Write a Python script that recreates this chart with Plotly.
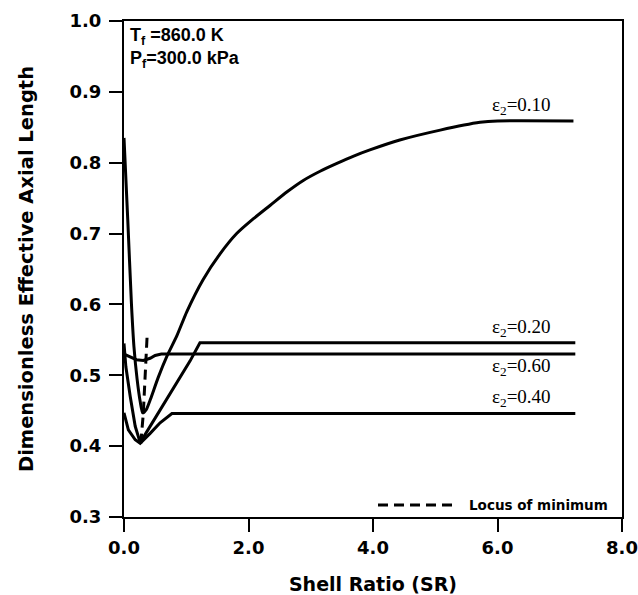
import plotly.graph_objects as go

# ---- data ----
eps10_x = [0.0, 0.06, 0.12, 0.16, 0.21, 0.26, 0.30, 0.36, 0.42, 0.55, 0.69, 0.85,
           1.01, 1.27, 1.54, 1.81, 2.08, 2.35, 2.62, 2.88, 3.15, 3.42, 3.68, 3.95, 4.43,
           5.08, 5.72, 6.00, 7.22]
eps10_y = [0.835, 0.720, 0.600, 0.540, 0.495, 0.463, 0.447, 0.452, 0.465, 0.497,
           0.527, 0.556, 0.590, 0.635, 0.671, 0.700, 0.721, 0.740, 0.759, 0.775, 0.788,
           0.799, 0.809, 0.818, 0.832, 0.846, 0.857, 0.859, 0.859]

eps20_x = [0.0, 0.03, 0.10, 0.18, 0.26, 0.42, 0.58, 0.85, 1.06, 1.22, 7.25]
eps20_y = [0.545, 0.512, 0.470, 0.428, 0.405, 0.428, 0.451, 0.490, 0.520, 0.546, 0.546]

eps40_x = [0.0, 0.07, 0.18, 0.26, 0.42, 0.58, 0.77, 7.25]
eps40_y = [0.447, 0.423, 0.409, 0.404, 0.418, 0.433, 0.446, 0.446]

eps60_x = [0.0, 0.10, 0.20, 0.31, 0.42, 0.50, 0.60, 7.25]
eps60_y = [0.530, 0.526, 0.522, 0.521, 0.524, 0.528, 0.530, 0.530]

locus_x = [0.37, 0.34, 0.31, 0.27]
locus_y = [0.553, 0.504, 0.446, 0.404]

curve_labels = ["ε<sub>2</sub>=0.10", "ε<sub>2</sub>=0.20", "ε<sub>2</sub>=0.60", "ε<sub>2</sub>=0.40"]
label_x = [6.39, 6.39, 6.39, 6.39]
label_y = [0.880, 0.567, 0.512, 0.468]

x_ticks = [0, 2, 4, 6, 8]
y_ticks = [0.3, 0.4, 0.5, 0.6, 0.7, 0.8, 0.9, 1.0]

fig = go.Figure()
fig.add_trace(go.Scatter(x=eps10_x, y=eps10_y, mode="lines", line_shape="spline",
                         line=dict(color="black", width=3, smoothing=0.6), showlegend=False))
for xs, ys in [(eps20_x, eps20_y), (eps40_x, eps40_y), (eps60_x, eps60_y)]:
    fig.add_trace(go.Scatter(x=xs, y=ys, mode="lines",
                             line=dict(color="black", width=3), showlegend=False))
fig.add_trace(go.Scatter(x=locus_x, y=locus_y, mode="lines", name="Locus of minimum",
                         line=dict(color="black", width=3, dash="10px,6px"), showlegend=False))

for t, xx, yy in zip(curve_labels, label_x, label_y):
    fig.add_annotation(x=xx, y=yy, text=t, showarrow=False, xanchor="center", yanchor="middle",
                       font=dict(family="Liberation Serif", size=19, color="black"))

fig.add_annotation(x=0.008, y=0.995, xref="paper", yref="paper", xanchor="left", yanchor="top",
                   align="left", showarrow=False,
                   text="<b>T<sub>f</sub> =860.0 K</b><br><b>P<sub>f</sub>=300.0 kPa</b>",
                   font=dict(family="Liberation Sans", size=18, color="black"))

# legend sample (dashed line + text)
fig.add_shape(type="line", xref="paper", yref="paper", x0=(378-124)/498, x1=(455-124)/498,
              y0=(517-505)/496, y1=(517-505)/496,
              line=dict(color="black", width=3, dash="10px,6px"))
fig.add_annotation(x=(467-124)/498, y=(517-505)/496, xref="paper", yref="paper",
                   xanchor="left", yanchor="middle", showarrow=False,
                   text="<b>Locus of minimum</b>",
                   font=dict(family="DejaVu Sans", size=13.5, color="black"))

axis_common = dict(showline=True, linecolor="black", linewidth=2, mirror=True,
                   ticks="outside", ticklen=13, tickwidth=2, tickcolor="black",
                   showgrid=False, zeroline=False, automargin=False,
                   tickfont=dict(family="DejaVu Sans", size=18, color="black", weight="bold"))

fig.update_layout(
    width=638, height=595,
    margin=dict(l=124, r=16, t=21, b=78),
    plot_bgcolor="white", paper_bgcolor="white",
    xaxis=dict(range=[0, 8], tickvals=x_ticks, tickformat=".1f",
               title=dict(text="<b>Shell Ratio (SR)</b>", standoff=22,
                          font=dict(family="DejaVu Sans", size=19, color="black")),
               **axis_common),
    yaxis=dict(range=[0.3, 1.0], tickvals=y_ticks, tickformat=".1f", ticklabelstandoff=4,
               title=dict(text="<b>Dimensionless Effective Axial Length</b>", standoff=31,
                          font=dict(family="DejaVu Sans", size=19.5, color="black")),
               **axis_common),
)

# remove the default page margin so the 638x595 figure fills the window exactly
fig.write_html("out.html", config={"displayModeBar": False},
               post_script="document.body.style.margin='0';")
